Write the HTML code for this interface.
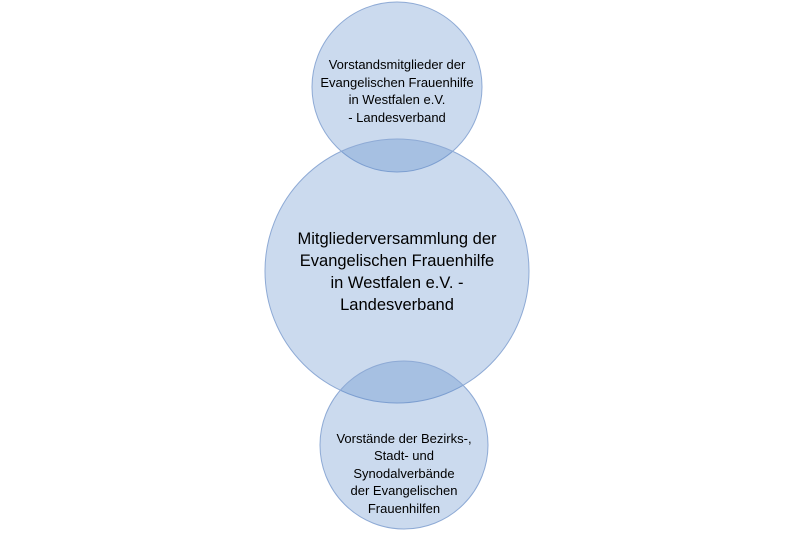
<!DOCTYPE html>
<html><head><style>body{margin:0;background:#fff}</style></head><body>
<svg width="800" height="533" xmlns="http://www.w3.org/2000/svg" font-family="Liberation Sans, sans-serif" fill="#000">
<g fill="rgb(84,134,199)" fill-opacity="0.3" stroke="#8eaad5" stroke-width="1">
<circle cx="397" cy="87" r="85"/>
<circle cx="397" cy="271" r="132"/>
<circle cx="404" cy="445" r="84"/>
</g>
<g text-anchor="middle" font-size="13">
<text x="397" y="69">Vorstandsmitglieder der</text>
<text x="397" y="87">Evangelischen Frauenhilfe</text>
<text x="397" y="104">in Westfalen e.V.</text>
<text x="397" y="122">- Landesverband</text>
</g>
<g text-anchor="middle" font-size="16.5">
<text x="397" y="244">Mitgliederversammlung der</text>
<text x="397" y="266">Evangelischen Frauenhilfe</text>
<text x="397" y="288">in Westfalen e.V. -</text>
<text x="397" y="310">Landesverband</text>
</g>
<g text-anchor="middle" font-size="13">
<text x="404" y="443">Vorstände der Bezirks-,</text>
<text x="404" y="460">Stadt- und</text>
<text x="404" y="478">Synodalverbände</text>
<text x="404" y="495">der Evangelischen</text>
<text x="404" y="513">Frauenhilfen</text>
</g>
</svg>
</body></html>
